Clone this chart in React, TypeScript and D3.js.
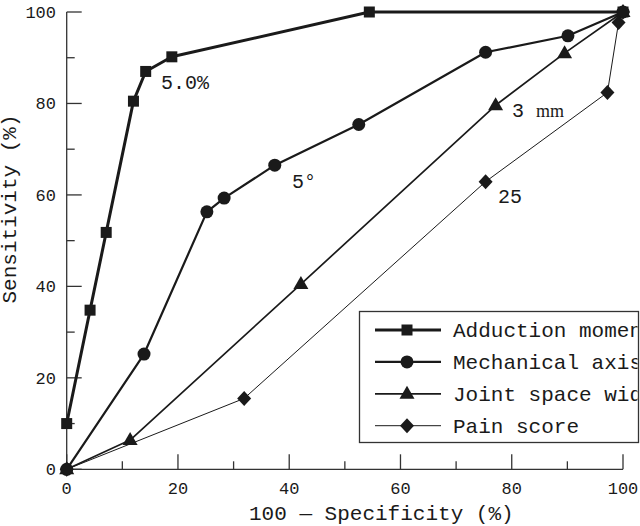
import React from 'react';
import * as d3 from 'd3';

// ROC curves
const adductionX = [0, 4.2, 7.1, 12.0, 14.2, 18.9, 54.4, 100];
const adductionY = [10, 34.8, 51.8, 80.5, 87.0, 90.2, 100, 100];

const mechanicalX = [0, 13.9, 25.2, 28.3, 37.4, 52.5, 75.3, 90.1, 100];
const mechanicalY = [0, 25.2, 56.3, 59.3, 66.5, 75.4, 91.2, 94.8, 100];

const jointX = [0, 11.4, 42.1, 77.1, 89.5, 100];
const jointY = [0, 6.4, 40.5, 79.6, 91.0, 100];

const painX = [0, 31.9, 75.3, 97.2, 99.2, 100];
const painY = [0, 15.5, 62.9, 82.4, 97.7, 100];

const seriesNames = ['Adduction moment', 'Mechanical axis', 'Joint space width', 'Pain score'];
const majorTicks = [0, 20, 40, 60, 80, 100];
const minorTicks = [10, 30, 50, 70, 90];

const MONO = '"Liberation Mono", "DejaVu Sans Mono", monospace';
const INK = '#1a1a1a';

type Shape = 'square' | 'circle' | 'triangle' | 'diamond';

const Marker: React.FC<{ shape: Shape; x: number; y: number }> = ({ shape, x, y }) => {
  if (shape === 'square') return <rect x={x - 5.5} y={y - 5.5} width={11} height={11} fill={INK} />;
  if (shape === 'circle') return <circle cx={x} cy={y} r={6.5} fill={INK} />;
  if (shape === 'triangle')
    return <path d={`M${x},${y - 8} L${x + 7.5},${y + 5} L${x - 7.5},${y + 5} Z`} fill={INK} />;
  return <path d={`M${x},${y - 7.5} L${x + 7},${y} L${x},${y + 7.5} L${x - 7},${y} Z`} fill={INK} />;
};

const App: React.FC = () => {
  const width = 640;
  const height = 526;

  const x = d3.scaleLinear().domain([0, 100]).range([66.7, 623]);
  const y = d3.scaleLinear().domain([0, 100]).range([469.3, 12]);

  const line = d3
    .line<[number, number]>()
    .x(d => x(d[0]))
    .y(d => y(d[1]));

  const series: { xs: number[]; ys: number[]; shape: Shape; sw: number }[] = [
    { xs: adductionX, ys: adductionY, shape: 'square', sw: 3 },
    { xs: mechanicalX, ys: mechanicalY, shape: 'circle', sw: 2.2 },
    { xs: jointX, ys: jointY, shape: 'triangle', sw: 1.7 },
    { xs: painX, ys: painY, shape: 'diamond', sw: 1 },
  ];

  // legend box
  const lgLeft = 359.5;
  const lgTop = 311.5;
  const lgRight = 638.5;
  const lgBottom = 442.5;
  const rowY = (i: number) => 330 + i * 31.9;

  return (
    <svg
      width={width}
      height={height}
      style={{ position: 'absolute', left: 0, top: 0, background: '#fff' }}
      fontFamily={MONO}
    >
      <defs>
        <clipPath id="legend-clip">
          <rect x={lgLeft} y={lgTop} width={lgRight - lgLeft - 1} height={lgBottom - lgTop} />
        </clipPath>
      </defs>

      {/* axes */}
      <g stroke="#333" strokeWidth={1.3}>
        <line x1={x(0)} x2={x(0)} y1={y(100)} y2={y(0)} />
        <line x1={x(0)} x2={x(100)} y1={y(0)} y2={y(0)} />
        {majorTicks.map(t => (
          <line key={'ym' + t} x1={x(0)} x2={x(0) + 15} y1={y(t)} y2={y(t)} />
        ))}
        {minorTicks.map(t => (
          <line key={'yn' + t} x1={x(0)} x2={x(0) + 8} y1={y(t)} y2={y(t)} />
        ))}
        {majorTicks.map(t => (
          <line key={'xm' + t} x1={x(t)} x2={x(t)} y1={y(0)} y2={y(0) - 15} />
        ))}
        {minorTicks.map(t => (
          <line key={'xn' + t} x1={x(t)} x2={x(t)} y1={y(0)} y2={y(0) - 8} />
        ))}
      </g>

      {/* tick labels */}
      <g fill={INK} fontSize={17}>
        {majorTicks.map(t => (
          <text key={'yl' + t} x={56} y={y(t)} dy="0.35em" textAnchor="end">
            {t}
          </text>
        ))}
        {majorTicks.map(t => (
          <text key={'xl' + t} x={x(t)} y={494} textAnchor="middle">
            {t}
          </text>
        ))}
      </g>

      {/* axis titles */}
      <text x={249} y={520} fontSize={21} fill={INK}>
        100 — Specificity (%)
      </text>
      <text
        transform={`translate(16, 209) rotate(-90)`}
        textAnchor="middle"
        fontSize={21}
        fill={INK}
      >
        Sensitivity (%)
      </text>

      {/* curves */}
      {series.map((s, i) => (
        <path
          key={'l' + i}
          d={line(s.xs.map((v, j) => [v, s.ys[j]] as [number, number])) || ''}
          fill="none"
          stroke={INK}
          strokeWidth={s.sw}
          strokeLinejoin="round"
        />
      ))}
      {series.map((s, i) =>
        s.xs.map((v, j) => <Marker key={`m${i}-${j}`} shape={s.shape} x={x(v)} y={y(s.ys[j])} />)
      )}

      {/* cut-off annotations */}
      <g fill={INK} fontSize={20}>
        <text x={161} y={89}>5.0%</text>
        <text x={292} y={188}>5°</text>
        <text x={512} y={117}>
          3 <tspan fontFamily='"Liberation Serif", serif' fontSize={18}>mm</tspan>
        </text>
        <text x={498} y={203}>25</text>
      </g>

      {/* legend */}
      <rect x={lgLeft} y={lgTop} width={lgRight - lgLeft} height={lgBottom - lgTop} fill="#fff" stroke="#333" strokeWidth={1.3} />
      {series.map((s, i) => (
        <g key={'lg' + i}>
          <line x1={375} x2={441} y1={rowY(i)} y2={rowY(i)} stroke={INK} strokeWidth={s.sw} />
          <Marker shape={s.shape} x={407} y={rowY(i)} />
        </g>
      ))}
      <g clipPath="url(#legend-clip)" fill={INK} fontSize={21}>
        {seriesNames.map((n, i) => (
          <text key={'lt' + i} x={453} y={rowY(i)} dy="0.35em">
            {n}
          </text>
        ))}
      </g>
    </svg>
  );
};

export default App;
